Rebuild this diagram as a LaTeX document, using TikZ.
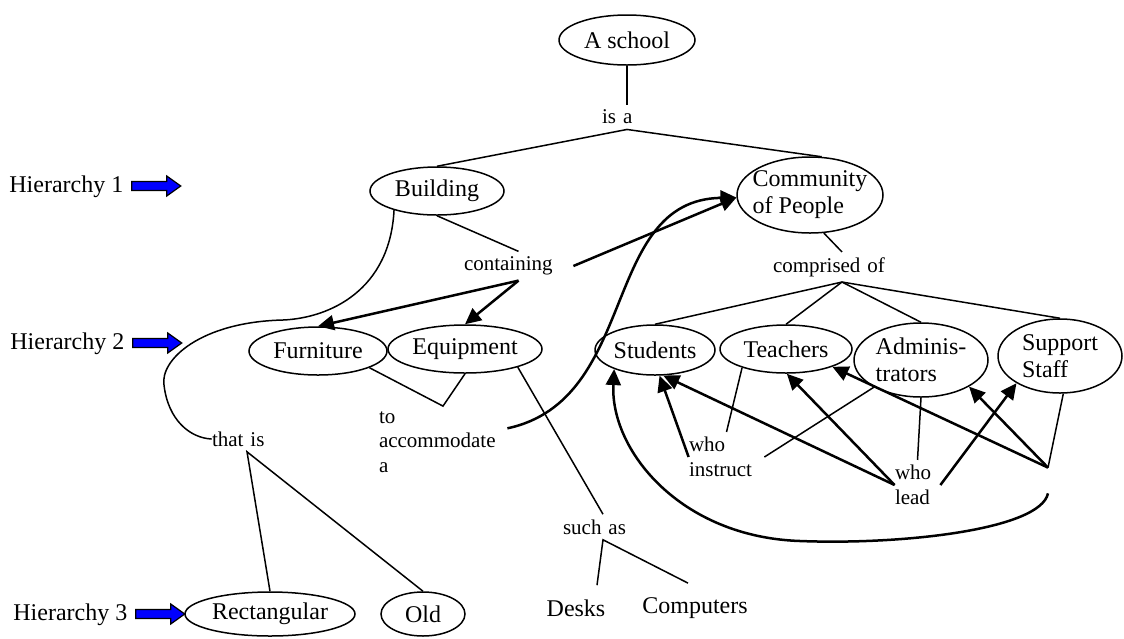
\documentclass[tikz,border=0pt]{standalone}
\usepackage{fontspec}
\setmainfont{Liberation Serif}
\usetikzlibrary{shapes.geometric,arrows.meta,calc}

\begin{document}
\begin{tikzpicture}[x=0.5pt,y=-0.5pt,
  cbox/.style={ellipse,draw,line width=0.75pt,inner sep=-4pt,font=\fontsize{12}{13.5}\selectfont},
  cword/.style={inner xsep=0pt,inner ysep=7pt,font=\fontsize{12}{13.5}\selectfont},
  lphrase/.style={inner xsep=0pt,inner ysep=2.5pt,align=left,font=\fontsize{10.5}{12.25}\selectfont},
  thinline/.style={line width=0.75pt},
  arrowline/.style={line width=1.25pt,-{Triangle[length=8pt,width=7.5pt]}},
  hlab/.style={inner sep=0pt,anchor=base west,font=\fontsize{12}{13.5}\selectfont},
  hmark/.style={draw=black,fill=blue,line width=0.6pt}
]
\useasboundingbox (0,0) rectangle (1124,638);

% concepts
\node[cbox,minimum width=68pt,minimum height=25pt] (school) at (627,40) {A school};
\node[cbox,minimum width=67pt,minimum height=24pt] (building) at (437,191) {Building};
\node[cbox,align=left,minimum width=73pt,minimum height=38pt] (community) at (810,195) {Community\\of People};
\node[cbox,minimum width=69pt,minimum height=24pt] (furniture) at (318,351) {Furniture};
\node[cbox,minimum width=77pt,minimum height=24pt] (equipment) at (465,349) {Equipment};
\node[cbox,minimum width=60pt,minimum height=25pt] (students) at (655,350) {Students};
\node[cbox,minimum width=66pt,minimum height=24pt] (teachers) at (786,349) {Teachers};
\node[cbox,align=left,minimum width=67pt,minimum height=37pt] (admin) at (921,360) {Adminis-\\trators};
\node[cbox,align=left,minimum width=62pt,minimum height=37pt] (support) at (1060,356) {Support\\Staff};
\node[cbox,minimum width=85pt,minimum height=22pt] (rect) at (270,614) {Rectangular};
\node[cbox,minimum width=42pt,minimum height=22pt] (old) at (423,614) {Old};
\node[cword] (desks) at (576,608) {Desks};
\node[cword] (computers) at (695,608) {Computers};

% linking phrases
\node[lphrase,text width=25pt] (isa) at (627,117) {is a};
\node[lphrase,text width=54.5pt] (containing) at (518.5,266) {containing};
\node[lphrase,text width=69pt] (comprised) at (842,267) {comprised of};
\node[lphrase,text width=64pt] (accom) at (443,442) {to\\accommodate\\a};
\node[lphrase,text width=35pt] (thatis) at (247,439) {that is};
\node[lphrase,text width=40pt] (suchas) at (603,527) {such as};
\node[lphrase,text width=37.5pt] (instruct) at (726.5,457) {who\\instruct};
\node[lphrase,text width=22.5pt] (wholead) at (917.5,485) {who\\lead};
\node[inner sep=0pt,minimum height=12.5pt,minimum width=0pt] (blank) at (1048,480.5) {};

% hierarchy markers
\node[hlab] (h1) at (9,192) {Hierarchy 1};
\node[hlab] (h2) at (10,349) {Hierarchy 2};
\node[hlab] (h3) at (13,620) {Hierarchy 3};
\foreach \hh in {h1,h2,h3}
  \draw[hmark] ($(\hh.base east)+(8,-6)$) ++(0,-4.5) -- ++(35,0) -- ++(0,-5.5)
    -- ++(14,10) -- ++(-14,10) -- ++(0,-5.5) -- ++(-35,0) -- cycle;

% connectors
\draw[thinline] (school.south) -- (isa.north);
\draw[thinline] (building.north) -- (isa.south) -- (community.73);
\draw[thinline] (building.south) -- (containing.north);
\draw[arrowline] (containing.south) -- (furniture.north);
\draw[arrowline] (containing.south) -- (equipment.north);
\draw[arrowline] (containing.east) -- (community.182);
\draw[arrowline] (accom.12) .. controls (640,400) and (600,200) .. (community.182);
\draw[thinline] (furniture.-18) -- (accom.north) -- (equipment.south);
\draw[thinline] (equipment.-19) -- (suchas.north);
\draw[thinline] ($(desks.north)+(21,0)$) -- (suchas.south) -- ($(computers.north)+(-7,0)$);
\draw[thinline] (building.204) .. controls (390,290) and (330,318) .. (283,320)
  .. controls (200,322) and (160,360) .. (164,385)
  .. controls (168,420) and (190,438) .. (thatis.west);
\draw[thinline] (rect.north) -- (thatis.south) -- (old.north);
\draw[thinline] (community.-70) -- (comprised.north);
\foreach \kid in {students,teachers,admin,support}
  \draw[thinline] (comprised.south) -- (\kid.north);
\draw[thinline] (teachers.-157) -- (instruct.north);
\draw[thinline] (admin.-150) -- (instruct.east);
\draw[thinline] (admin.south) -- (wholead.north);
\draw[thinline] (support.-85) -- (blank.north);
\draw[arrowline] (instruct.west) -- (students.-80);
\draw[arrowline] (wholead.west) -- (students.-72);
\draw[arrowline] (wholead.west) -- (teachers.-88);
\draw[arrowline] (wholead.east) -- (support.-148);
\draw[arrowline] (blank.north) -- (teachers.-21);
\draw[arrowline] (blank.north) -- (admin.-29);
\draw[arrowline] (blank.south) .. controls (1040,530) and (900,545) .. (800,541)
  .. controls (680,537) and (610,450) .. (students.205);
\end{tikzpicture}
\end{document}
